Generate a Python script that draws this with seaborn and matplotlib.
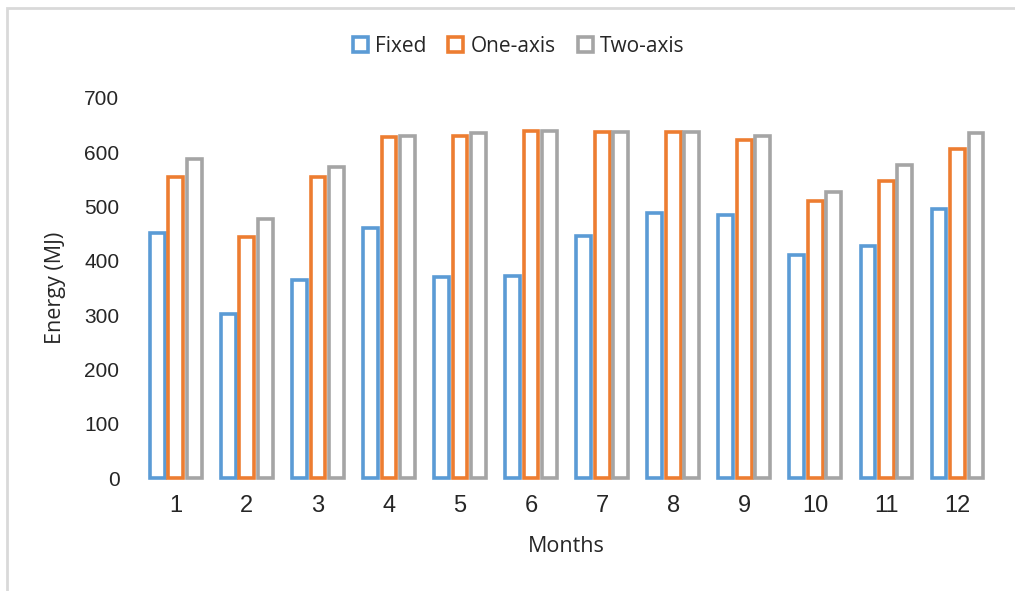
import pandas as pd
import matplotlib
matplotlib.use("Agg")
import matplotlib.pyplot as plt
import matplotlib.patches as mpatches
import seaborn as sns

months = [1, 2, 3, 4, 5, 6, 7, 8, 9, 10, 11, 12]
fixed = [451, 302, 364, 461, 371, 373, 446, 489, 484, 410, 428, 496]
one_axis = [554, 444, 554, 628, 630, 640, 638, 637, 623, 510, 548, 606]
two_axis = [587, 477, 573, 630, 635, 640, 638, 637, 630, 527, 576, 635]
series = ["Fixed", "One-axis", "Two-axis"]
colors = ["#5B9BD5", "#ED7D31", "#A5A5A5"]

df = pd.DataFrame({"Month": months * 3,
                   "Energy": fixed + one_axis + two_axis,
                   "Type": [s for s in series for _ in months]})

sns.set_style("white")

fig = plt.figure(figsize=(10.15, 5.91), dpi=100)
ax = fig.add_axes([0.1382, 0.1912, 0.8401, 0.643])

sns.barplot(data=df, x="Month", y="Energy", hue="Type", hue_order=series,
            palette=colors, fill=False, linewidth=2.6, width=0.78, gap=0.2,
            errorbar=None, ax=ax)

for p in ax.patches:
    p.set_clip_on(False)

ax.set_ylim(0, 700)
ax.set_yticks(range(0, 701, 100))
for s in ax.spines.values():
    s.set_visible(False)
ax.tick_params(axis="both", length=0, colors="#262626")
ax.tick_params(axis="y", pad=15, labelsize=15)
ax.tick_params(axis="x", pad=12.5, labelsize=17)
for t in ax.get_xticklabels() + ax.get_yticklabels():
    t.set_fontfamily("Liberation Sans")

ax.set_xlabel("Months", fontsize=15.5, family="Open Sans", color="#262626")
ax.set_ylabel("Energy (MJ)", fontsize=15.5, family="Open Sans", color="#262626")
ax.xaxis.set_label_coords(0.5, -0.18)
ax.yaxis.set_label_coords(-0.099, 0.5)
ax.xaxis.label.set_va("center")
ax.yaxis.label.set_va("center")

handles, labels = ax.get_legend_handles_labels()
if ax.legend_:
    ax.legend_.remove()
fig.legend(handles, labels, loc="center", bbox_to_anchor=(0.511, 0.922),
           ncol=3, frameon=False, handlelength=0.72, handleheight=0.72,
           handletextpad=0.34, columnspacing=1.05,
           prop={"family": "Open Sans", "size": 15})

# outer chart border (left and top visible)
fig.patches.append(mpatches.Rectangle((7 / 1015, -0.1), 1.2, 1.1 - 8 / 591,
                                      transform=fig.transFigure, fill=False,
                                      edgecolor="#D9D9D9", linewidth=2))

fig.savefig("out.png", dpi=100)
